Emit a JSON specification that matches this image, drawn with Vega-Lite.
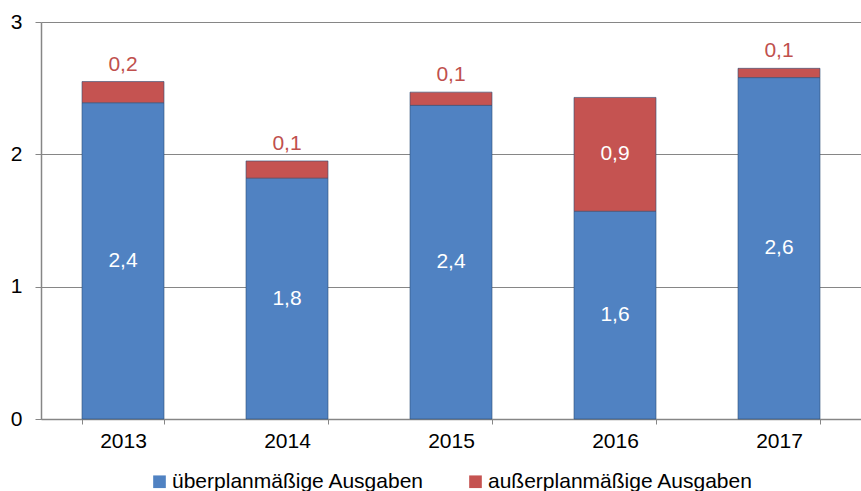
{
  "$schema": "https://vega.github.io/schema/vega-lite/v6.json",
  "width": 820,
  "height": 397,
  "autosize": {"type": "none"},
  "padding": {"left": 41, "top": 22, "right": 0, "bottom": 72},
  "config": {
    "view": {"stroke": null},
    "font": "Liberation Sans",
    "locale": {"number": {"decimal": ",", "thousands": ".", "grouping": [3], "currency": ["", " €"]}},
    "axis": {"labelFont": "Liberation Sans", "labelFontSize": 21, "labelColor": "#000000", "domainColor": "#868686", "tickColor": "#868686", "gridColor": "#868686", "title": null}
  },
  "data": {
    "values": [
      {"year": "2013", "type": "überplanmäßige Ausgaben", "value": 2.39},
      {"year": "2013", "type": "außerplanmäßige Ausgaben", "value": 0.16},
      {"year": "2014", "type": "überplanmäßige Ausgaben", "value": 1.82},
      {"year": "2014", "type": "außerplanmäßige Ausgaben", "value": 0.13},
      {"year": "2015", "type": "überplanmäßige Ausgaben", "value": 2.37},
      {"year": "2015", "type": "außerplanmäßige Ausgaben", "value": 0.10},
      {"year": "2016", "type": "überplanmäßige Ausgaben", "value": 1.57},
      {"year": "2016", "type": "außerplanmäßige Ausgaben", "value": 0.86},
      {"year": "2017", "type": "überplanmäßige Ausgaben", "value": 2.58},
      {"year": "2017", "type": "außerplanmäßige Ausgaben", "value": 0.07}
    ]
  },
  "transform": [
    {"stack": "value", "groupby": ["year"], "sort": [{"field": "type", "order": "descending"}], "as": ["v0", "v1"]},
    {"calculate": "(datum.v0 + datum.v1) / 2", "as": "mid"}
  ],
  "encoding": {
    "x": {
      "field": "year", "type": "ordinal",
      "scale": {"paddingInner": 0.5, "paddingOuter": 0.25},
      "axis": {"labelAngle": 0, "tickBand": "extent", "tickSize": 5, "labelPadding": 6, "domainWidth": 1.5, "grid": false}
    }
  },
  "layer": [
    {
      "mark": {"type": "bar", "stroke": "#2d4d75", "strokeWidth": 0.6},
      "encoding": {
        "y": {
          "field": "v1", "type": "quantitative",
          "scale": {"domain": [0, 3], "nice": false},
          "axis": {"values": [0, 1, 2, 3], "format": "d", "tickSize": 6, "labelPadding": 13, "grid": true, "domainWidth": 1.5, "gridWidth": 1.2}
        },
        "y2": {"field": "v0"},
        "color": {
          "field": "type", "type": "nominal",
          "scale": {"domain": ["überplanmäßige Ausgaben", "außerplanmäßige Ausgaben"], "range": ["#5082C2", "#C55351"]},
          "legend": {"title": null, "orient": "none", "legendX": 108, "legendY": 449, "direction": "horizontal", "symbolType": "square", "symbolSize": 160, "symbolStrokeWidth": 0, "labelFontSize": 21, "labelFont": "Liberation Sans", "labelColor": "#000000", "labelLimit": 400, "columnPadding": 40, "labelOffset": 2}
        }
      }
    },
    {
      "transform": [{"filter": "datum.type == 'überplanmäßige Ausgaben' || datum.value >= 0.5"}],
      "mark": {"type": "text", "fontSize": 21, "color": "#FFFFFF", "font": "Liberation Sans"},
      "encoding": {
        "y": {"field": "mid", "type": "quantitative"},
        "text": {"field": "value", "type": "quantitative", "format": ".1f"}
      }
    },
    {
      "transform": [{"filter": "datum.type == 'außerplanmäßige Ausgaben' && datum.value < 0.5"}],
      "mark": {"type": "text", "fontSize": 21, "color": "#C0504D", "font": "Liberation Sans", "dy": -17},
      "encoding": {
        "y": {"field": "v1", "type": "quantitative"},
        "text": {"field": "value", "type": "quantitative", "format": ".1f"}
      }
    }
  ]
}
